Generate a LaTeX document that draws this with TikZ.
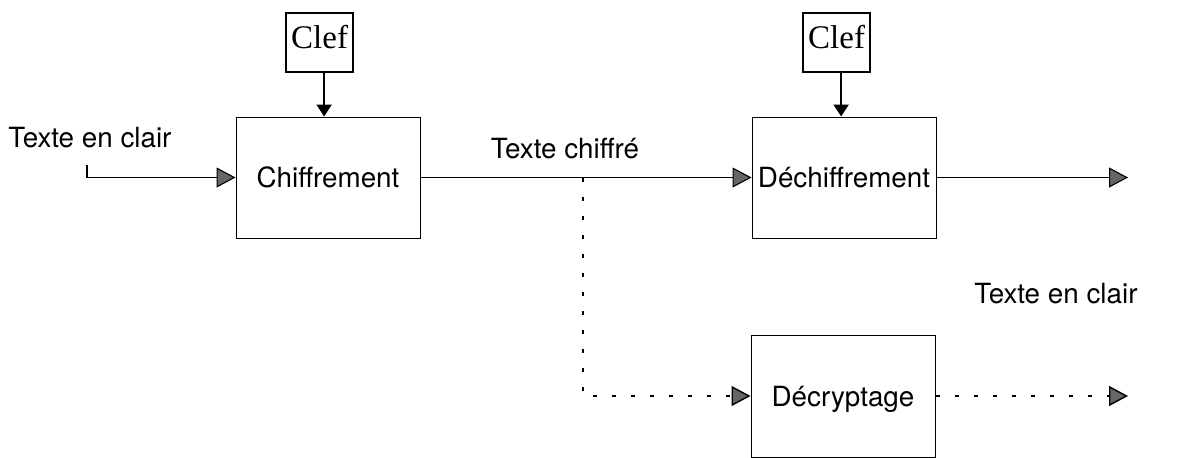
\documentclass[tikz,border=0pt]{standalone}
\usepackage{fontspec}
\setmainfont{TeX Gyre Heros}
\newfontfamily\clefface{Liberation Serif}
\usetikzlibrary{arrows.meta,calc}

\tikzset{
  stage/.style={draw, line width=0.5pt, minimum width=92pt, minimum height=60.5pt,
    inner sep=0pt, text height=10pt, text depth=0pt, font=\fontsize{13.9}{16}\selectfont},
  keybox/.style={draw, line width=1.2pt, inner xsep=2.5pt, inner ysep=0pt,
    text height=17.5pt, text depth=12pt, font=\clefface\fontsize{16.5}{18}\selectfont},
  caption/.style={inner sep=0pt, font=\fontsize{13.9}{16}\selectfont},
  flow/.style={line width=0.55pt, -{Triangle[length=9.5pt,width=10pt,fill=black!60]}},
  keyflow/.style={line width=1.1pt, -{Triangle[length=6pt,width=7.5pt,fill=black]}},
  guess/.style={flow, line width=0.7pt, dash pattern=on 2pt off 7.5pt}
}

\begin{document}
\begin{tikzpicture}[x=0.5pt, y=-0.5pt]
  \useasboundingbox (0,0) rectangle (1177,457);
  \clip (0,0) rectangle (1177,457);
  \fill[white] (0,0) rectangle (1177,457);

  % processing stages
  \node[stage] (chif) at (328,177.5) {Chiffrement};
  \node[stage] (dechif) at (844,177.5) {Déchiffrement};
  \node[stage, minimum height=61pt] (decr) at (843,396) {Décryptage};

  % key boxes
  \node[keybox, anchor=base west] (k1) at (285,48) {Clef};
  \node[keybox, anchor=base west] (k2) at (802,48) {Clef};

  % free labels
  \node[caption, anchor=base west] (plainin) at (8,147) {Texte en clair};
  \node[caption, anchor=base] (cipher) at (565,158) {Texte chiffré};
  \node[caption, anchor=base west] (plainout) at (974,303) {Texte en clair};

  % free ends
  \coordinate (src) at (87,165);
  \coordinate (branch) at (583,177.5);
  \coordinate (out1) at (1128,177.5);
  \coordinate (out2) at (1128,396);

  % keys into the stages
  \draw[keyflow] ([xshift=2.25pt]k1.south) -- ([xshift=2.25pt]k1.south |- chif.north);
  \draw[keyflow] ([xshift=2.25pt]k2.south) -- ([xshift=2.25pt]k2.south |- dechif.north);

  % legitimate path
  \draw[flow] (src) |- (chif.west);
  \draw[flow] (chif.east) -- (dechif.west);
  \draw[flow] (dechif.east) -- (out1);

  % eavesdropper path
  \draw[guess] (branch) |- (decr.west);
  \draw[guess] (decr.east) -- (out2);
\end{tikzpicture}
\end{document}
